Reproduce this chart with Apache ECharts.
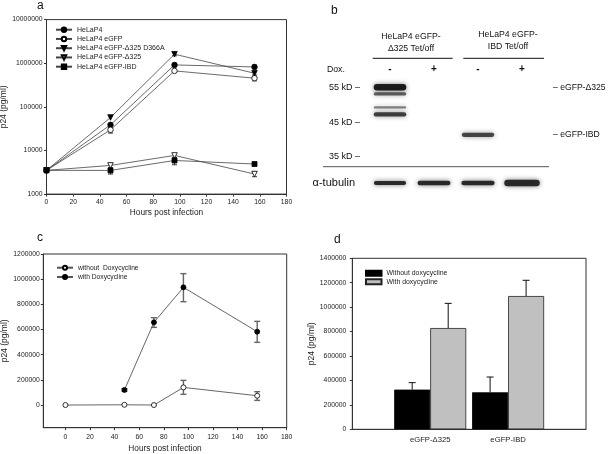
<!DOCTYPE html>
<html><head><meta charset="utf-8">
<script src="https://cdn.jsdelivr.net/npm/echarts@6/dist/echarts.min.js"></script>
<style>html,body{margin:0;padding:0;background:#fff}#c{width:608px;height:454px}</style>
</head><body><div id="c"></div>
<script>
// ---------- Panel a (log scale) ----------
const aHours = [0, 48, 96, 156];
const aNames = ['HeLaP4', 'HeLaP4 eGFP', 'HeLaP4 eGFP-Δ325 D366A', 'HeLaP4 eGFP-Δ325', 'HeLaP4 eGFP-IBD'];
const aHeLaP4 = [3500, 38700, 914000, 822000];
const aEGFP = [3500, 29800, 667000, 454000];
const aD366A = [3500, 57000, 1610000, 590000];
const aD325 = [3500, 4540, 7700, 2880];
const aIBD = [3500, 3490, 5900, 4890];
const aErrHeLaP4 = [[96, 820000, 1000000], [156, 740000, 910000]];
const aErrEGFP = [[48, 25000, 33600], [156, 394000, 537000]];
const aErrD366A = [[96, 1480000, 1780000]];
const aErrD325 = [[48, 4000, 5100], [156, 2500, 3300]];
const aErrIBD = [[48, 2880, 3950], [96, 4700, 6900]];

// ---------- Panel c (linear) ----------
const cHours = [0, 48, 72, 96, 156];
const cNames = ['without  Doxycycline', 'with Doxycycline'];
const cWithout = [0, 2000, 0, 140000, 74000];
const cWithHours = [48, 72, 96, 156];
const cWith = [120000, 657000, 935000, 583000];
const cErrWithout = [[96, 85000, 196000], [156, 37000, 106000]];
const cErrWith = [[48, 110000, 130000], [72, 617000, 694000], [96, 821000, 1044000], [156, 498000, 665000]];
const cTicksX = [0, 20, 40, 60, 80, 100, 120, 140, 160, 180];
const cTicksY = [0, 200000, 400000, 600000, 800000, 1000000, 1200000];

// ---------- Panel d (bars) ----------
const dCats = ['eGFP-Δ325', 'eGFP-IBD'];
const dNames = ['Without doxycycline', 'With doxycycline'];
const dWithout = [325000, 303000];
const dWith = [829000, 1091000];
const dWithoutErr = [382000, 428000];
const dWithErr = [1031000, 1220000];

// ---------- Panel b (western blot) ----------
const bLanes = [1, 2, 3, 4];
const bDox = ['-', '+', '-', '+'];
const bGroups = ['HeLaP4 eGFP-\nΔ325 Tet/off', 'HeLaP4 eGFP-\nIBD Tet/off'];
const bMarkers = [55, 45, 35];
const bBands = [[1, 55, 1.0], [1, 53.1, 0.55], [1, 49.2, 0.35], [1, 47.2, 0.75], [3, 41.3, 0.7]];
const bBandLabelKD = [55, 41.3];
const bBandLabels = ['eGFP-Δ325', 'eGFP-IBD'];
const bTubulin = [0.75, 0.85, 0.9, 1.25];

const FONT = "'Liberation Sans', Arial, sans-serif";
const INK = '#222';

function errRender(params, api) {
  const x = api.value(0), lo = api.value(1), hi = api.value(2);
  const p1 = api.coord([x, lo]), p2 = api.coord([x, hi]);
  const w = 2.5, st = {stroke: '#222', lineWidth: 0.9};
  return {type: 'group', children: [
    {type: 'line', shape: {x1: p1[0], y1: p1[1], x2: p2[0], y2: p2[1]}, style: st},
    {type: 'line', shape: {x1: p1[0] - w, y1: p1[1], x2: p1[0] + w, y2: p1[1]}, style: st},
    {type: 'line', shape: {x1: p2[0] - w, y1: p2[1], x2: p2[0] + w, y2: p2[1]}, style: st}
  ]};
}
function errRenderC(params, api) {
  const x = api.value(0), lo = api.value(1), hi = api.value(2);
  const p1 = api.coord([x, lo]), p2 = api.coord([x, hi]);
  const w = 3, st = {stroke: '#666', lineWidth: 1.4};
  return {type: 'group', children: [
    {type: 'line', shape: {x1: p1[0], y1: p1[1], x2: p2[0], y2: p2[1]}, style: st},
    {type: 'line', shape: {x1: p1[0] - w, y1: p1[1], x2: p1[0] + w, y2: p1[1]}, style: st},
    {type: 'line', shape: {x1: p2[0] - w, y1: p2[1], x2: p2[0] + w, y2: p2[1]}, style: st}
  ]};
}
const BAR_W = 36;
function barErr(offsetSign) {
  return function (params, api) {
    const x = api.value(0), lo = api.value(1), hi = api.value(2);
    const p1 = api.coord([x, lo]), p2 = api.coord([x, hi]);
    const dx = offsetSign * BAR_W / 2;
    const st = {stroke: '#111', lineWidth: 1};
    return {type: 'group', children: [
      {type: 'line', shape: {x1: p1[0] + dx, y1: p1[1], x2: p2[0] + dx, y2: p2[1]}, style: st},
      {type: 'line', shape: {x1: p2[0] + dx - 3.5, y1: p2[1], x2: p2[0] + dx + 3.5, y2: p2[1]}, style: st}
    ]};
  };
}
function bandRender(params, api) {
  const c = api.coord([api.value(0), api.value(1)]);
  const lw = api.size([1, 0])[0];
  const k = api.value(2);
  const w = lw * 0.74, h = 1.8 + 4.6 * k * k;
  return {type: 'rect', shape: {x: c[0] - w / 2, y: c[1] - h / 2, width: w, height: h, r: h / 2},
    style: {fill: 'rgba(20,20,20,' + Math.min(1, 0.25 + 0.7 * k) + ')', shadowBlur: 5, shadowColor: 'rgba(0,0,0,0.55)'}};
}
function tubRender(params, api) {
  const c = api.coord([api.value(0), api.value(1)]);
  const lw = api.size([1, 0])[0];
  const k = api.value(2);
  const w = lw * (0.62 + 0.15 * k), h = 5.2 * k;
  return {type: 'rect', shape: {x: c[0] - w / 2, y: c[1] - h / 2, width: w, height: h, r: h / 2},
    style: {fill: 'rgba(25,25,25,0.9)', shadowBlur: 5, shadowColor: 'rgba(0,0,0,0.6)'}};
}

const pair = (xs, ys) => xs.map((x, i) => [x, ys[i]]);
const aSym = [
  {symbol: 'circle', fill: '#000'},
  {symbol: 'circle', fill: '#fff'},
  {symbol: 'triangle', fill: '#000', rot: 180},
  {symbol: 'triangle', fill: '#fff', rot: 180},
  {symbol: 'rect', fill: '#000'}
];
const aData = [aHeLaP4, aEGFP, aD366A, aD325, aIBD];

const tickLabel = {fontFamily: FONT, fontSize: 6.8, color: INK};
const axisLine = {show: true, onZero: false, lineStyle: {color: '#333', width: 1}};
const axisTick = {show: true, inside: false, length: 2.5, lineStyle: {color: '#333'}};
const gridBase = {show: true, borderColor: '#333', borderWidth: 1, containLabel: false, outerBoundsMode: 'none'};

const series = [];
aData.forEach((d, i) => {
  series.push({
    name: aNames[i], type: 'line', xAxisIndex: 0, yAxisIndex: 0,
    data: pair(aHours, d), symbol: aSym[i].symbol, symbolSize: aSym[i].symbol === 'rect' ? 5 : 5.5,
    symbolRotate: aSym[i].rot || 0, z: 3,
    lineStyle: {color: '#444', width: 0.8},
    itemStyle: {color: aSym[i].fill, borderColor: '#000', borderWidth: 0.8}
  });
});
series.push({type: 'custom', xAxisIndex: 0, yAxisIndex: 0, renderItem: errRender, z: 2,
  encode: {x: 0, y: [1, 2]},
  data: [].concat(aErrHeLaP4, aErrEGFP, aErrD366A, aErrD325, aErrIBD)});

series.push({name: cNames[0], type: 'line', xAxisIndex: 1, yAxisIndex: 1, data: pair(cHours, cWithout),
  symbol: 'circle', symbolSize: 5, z: 3, lineStyle: {color: '#555', width: 0.9},
  itemStyle: {color: '#fff', borderColor: '#000', borderWidth: 0.8}});
series.push({name: cNames[1], type: 'line', xAxisIndex: 1, yAxisIndex: 1, data: pair(cWithHours, cWith),
  symbol: 'circle', symbolSize: 5, z: 3, lineStyle: {color: '#555', width: 0.9},
  itemStyle: {color: '#000', borderColor: '#000', borderWidth: 0.8}});
series.push({type: 'custom', xAxisIndex: 1, yAxisIndex: 1, renderItem: errRenderC, z: 2,
  encode: {x: 0, y: [1, 2]}, data: [].concat(cErrWithout, cErrWith)});

const dX = dCats.map((c, i) => i + 1);
series.push({name: dNames[0], type: 'bar', xAxisIndex: 2, yAxisIndex: 2, data: pair(dX, dWithout),
  barWidth: BAR_W, barGap: '0%', itemStyle: {color: '#000', borderColor: '#000', borderWidth: 0.8}});
series.push({name: dNames[1], type: 'bar', xAxisIndex: 2, yAxisIndex: 2, data: pair(dX, dWith),
  barWidth: BAR_W, barGap: '0%', itemStyle: {color: '#c0c0c0', borderColor: '#222', borderWidth: 0.8}});
series.push({type: 'custom', xAxisIndex: 2, yAxisIndex: 2, renderItem: barErr(-1), z: 3,
  encode: {x: 0, y: [1, 2]}, data: dX.map((x, i) => [x, dWithout[i], dWithoutErr[i]])});
series.push({type: 'custom', xAxisIndex: 2, yAxisIndex: 2, renderItem: barErr(1), z: 3,
  encode: {x: 0, y: [1, 2]}, data: dX.map((x, i) => [x, dWith[i], dWithErr[i]])});

series.push({type: 'custom', xAxisIndex: 3, yAxisIndex: 3, renderItem: bandRender,
  encode: {x: 0, y: 1}, data: bBands});
series.push({type: 'custom', xAxisIndex: 4, yAxisIndex: 5, renderItem: tubRender,
  encode: {x: 0, y: 1}, data: bLanes.map((l, i) => [l, 0, bTubulin[i]])});

const legendText = (fs) => ({fontFamily: FONT, fontSize: fs, lineHeight: 9, color: INK});

const option = {
  animation: false,
  backgroundColor: '#fff',
  grid: [
    Object.assign({left: 46.5, top: 19.6, width: 240, height: 174.5}, gridBase),
    Object.assign({left: 43.3, top: 254, width: 243.4, height: 173.7}, gridBase),
    Object.assign({left: 352.3, top: 258.3, width: 233.7, height: 171}, gridBase),
    {left: 368, top: 75.85, width: 176, height: 91.3, show: false, containLabel: false, outerBoundsMode: 'none'},
    {left: 368, top: 176, width: 176, height: 14, show: false, containLabel: false, outerBoundsMode: 'none'}
  ],
  xAxis: [
    {gridIndex: 0, type: 'value', min: 0, max: 180, interval: 20, axisLine, axisTick,
     splitLine: {show: false}, axisLabel: Object.assign({margin: 5}, tickLabel),
     name: 'Hours post infection', nameLocation: 'middle', nameGap: 14.5,
     nameTextStyle: {fontFamily: FONT, fontSize: 8.3, color: INK}},
    {gridIndex: 1, type: 'value', min: -18, max: 180, axisLine,
     axisTick: Object.assign({customValues: cTicksX}, axisTick),
     splitLine: {show: false}, axisLabel: Object.assign({margin: 5.5, customValues: cTicksX}, tickLabel),
     name: 'Hours post infection', nameLocation: 'middle', nameGap: 17,
     nameTextStyle: {fontFamily: FONT, fontSize: 8.3, color: INK}},
    {gridIndex: 2, type: 'value', min: 0, max: 3, axisLine, axisTick: {show: false},
     splitLine: {show: false},
     axisLabel: Object.assign({}, tickLabel, {fontSize: 7.7, margin: 6.5, customValues: dX,
       formatter: v => dCats[Math.round(v) - 1] || ''})},
    {gridIndex: 3, type: 'value', min: 0.5, max: 4.5, position: 'top',
     axisLine: {show: false}, axisTick: {show: false}, splitLine: {show: false},
     axisLabel: {customValues: bLanes, formatter: v => bDox[Math.round(v) - 1] || '',
       fontFamily: FONT, fontSize: 10, fontWeight: 'bold', color: '#111', margin: 1.5}},
    {gridIndex: 4, type: 'value', min: 0.5, max: 4.5, show: false}
  ],
  yAxis: [
    {gridIndex: 0, type: 'log', logBase: 10, min: 1000, max: 10000000, axisLine, axisTick,
     splitLine: {show: false},
     axisLabel: Object.assign({margin: 4, formatter: v => String(Math.round(v))}, tickLabel),
     name: 'p24 (pg/ml)', nameLocation: 'middle', nameGap: 36,
     nameTextStyle: {fontFamily: FONT, fontSize: 8.5, color: INK}},
    {gridIndex: 1, type: 'value', min: -180000, max: 1200000, axisLine,
     axisTick: Object.assign({customValues: cTicksY}, axisTick), splitLine: {show: false},
     axisLabel: Object.assign({margin: 3.5, customValues: cTicksY, formatter: v => String(v)}, tickLabel),
     name: 'p24 (pg/ml)', nameLocation: 'middle', nameGap: 34,
     nameTextStyle: {fontFamily: FONT, fontSize: 8.5, color: INK}},
    {gridIndex: 2, type: 'value', min: 0, max: 1400000, interval: 200000, axisLine, axisTick,
     splitLine: {show: false},
     axisLabel: Object.assign({margin: 6, formatter: v => String(v)}, tickLabel),
     name: 'p24 (pg/ml)', nameLocation: 'middle', nameGap: 35,
     nameTextStyle: {fontFamily: FONT, fontSize: 8.5, color: INK}},
    {gridIndex: 3, type: 'value', min: 32, max: 58.3,
     axisLine: {show: false}, axisTick: {show: false}, splitLine: {show: false},
     axisLabel: {customValues: bMarkers, formatter: v => v + ' kD –', fontFamily: FONT, fontSize: 9,
       color: '#111', margin: 8}},
    {gridIndex: 3, type: 'value', min: 32, max: 58.3, position: 'right',
     axisLine: {show: false}, axisTick: {show: false}, splitLine: {show: false},
     axisLabel: {customValues: bBandLabelKD,
       formatter: v => '– ' + (bBandLabels[bBandLabelKD.indexOf(v)] || ''), fontFamily: FONT, fontSize: 8.6,
       color: '#111', margin: 9}},
    {gridIndex: 4, type: 'category', data: ['α-tubulin'],
     axisLine: {show: false}, axisTick: {show: false}, splitLine: {show: false},
     axisLabel: {fontFamily: FONT, fontSize: 11, color: '#111', margin: 13}}
  ],
  legend: [
    {data: aNames, orient: 'vertical', left: 55, top: 25.2, padding: 0, itemWidth: 16, itemHeight: 5.5, itemGap: 0.25,
     textStyle: legendText(7), selectedMode: false},
    {data: cNames, orient: 'vertical', left: 56, top: 263.2, padding: 0, itemWidth: 16, itemHeight: 5, itemGap: 0.3,
     textStyle: legendText(6.7), selectedMode: false},
    {data: dNames, orient: 'vertical', left: 365, top: 269.3, padding: 0, itemWidth: 15.5, itemHeight: 5, itemGap: 0.4,
     icon: 'rect', textStyle: {fontFamily: FONT, fontSize: 6.9, lineHeight: 8, color: INK}, selectedMode: false}
  ],
  graphic: [
    {type: 'text', left: 37, top: 0, style: {text: 'a', font: '12px ' + FONT, fill: '#111'}},
    {type: 'text', left: 331, top: 5, style: {text: 'b', font: '12px ' + FONT, fill: '#111'}},
    {type: 'text', left: 37, top: 232, style: {text: 'c', font: '12px ' + FONT, fill: '#111'}},
    {type: 'text', left: 334, top: 234, style: {text: 'd', font: '12px ' + FONT, fill: '#111'}},
    {type: 'text', x: 411, y: 42.5, style: {text: bGroups[0], font: '8.7px ' + FONT, fill: '#111',
      align: 'center', verticalAlign: 'middle', lineHeight: 12}},
    {type: 'text', x: 508, y: 40.5, style: {text: bGroups[1], font: '8.7px ' + FONT, fill: '#111',
      align: 'center', verticalAlign: 'middle', lineHeight: 12}},
    {type: 'line', shape: {x1: 372.7, y1: 58.3, x2: 452.7, y2: 58.3}, style: {stroke: '#111', lineWidth: 1}},
    {type: 'line', shape: {x1: 463.3, y1: 58.3, x2: 544, y2: 58.3}, style: {stroke: '#111', lineWidth: 1}},
    {type: 'line', shape: {x1: 323, y1: 166.7, x2: 549, y2: 166.7}, style: {stroke: '#555', lineWidth: 1}},
    {type: 'text', x: 327, y: 69.5, style: {text: 'Dox.', font: '8.7px ' + FONT, fill: '#111',
      verticalAlign: 'middle'}}
  ],
  series
};
const chart = echarts.init(document.getElementById('c'), null, {renderer: 'canvas'});
chart.setOption(option);
</script></body></html>
